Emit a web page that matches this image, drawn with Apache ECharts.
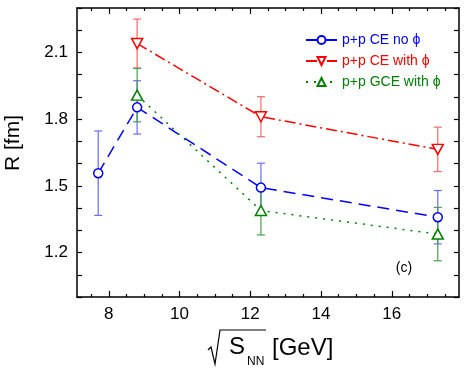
<!DOCTYPE html>
<html>
<head>
<meta charset="utf-8">
<script src="https://cdn.jsdelivr.net/npm/echarts@6/dist/echarts.min.js"></script>
<style>
  html, body { margin: 0; padding: 0; background: #fff; }
  #chart { width: 467px; height: 372px; }
</style>
</head>
<body>
<div id="chart"></div>
<script>
// collision energies (GeV)
var energyCE = [7.7, 8.8, 12.3, 17.3];
var energyPhi = [8.8, 12.3, 17.3];

// p+p CE no phi
var rCE = [1.557, 1.853, 1.492, 1.359];
var errCE = [0.19, 0.12, 0.11, 0.12];
// p+p CE with phi
var rCEphi = [2.14, 1.811, 1.664];
var errCEphi = [0.11, 0.09, 0.10];
// p+p GCE with phi
var rGCEphi = [1.908, 1.389, 1.283];
var errGCEphi = [0.12, 0.11, 0.12];

var xLabels = [8, 10, 12, 14, 16];
var yLabels = [1.2, 1.5, 1.8, 2.1];

var FONT = 'Arial, "Liberation Sans", sans-serif';
var BLUE = '#0000ff', RED = '#ff0000', GREEN = '#008000';

var xMinor = [];
for (var t = 7.5; t < 17.9; t += 0.5) {
    if (xLabels.indexOf(t) < 0) xMinor.push(t);
}

function pairs(xs, ys) {
    return xs.map(function (x, i) { return [x, ys[i]]; });
}
function triples(xs, ys, es) {
    return xs.map(function (x, i) { return [x, ys[i], es[i]]; });
}

function errorBars(color) {
    return function (params, api) {
        var x = api.value(0), y = api.value(1), e = api.value(2);
        var top = api.coord([x, y + e]);
        var bot = api.coord([x, y - e]);
        var w = 4;
        var st = { stroke: color, lineWidth: 1.2 };
        return {
            type: 'group',
            children: [
                { type: 'line', shape: { x1: top[0], y1: top[1], x2: bot[0], y2: bot[1] }, style: st },
                { type: 'line', shape: { x1: top[0] - w, y1: top[1], x2: top[0] + w, y2: top[1] }, style: st },
                { type: 'line', shape: { x1: bot[0] - w, y1: bot[1], x2: bot[0] + w, y2: bot[1] }, style: st }
            ]
        };
    };
}

function xAxisDef(pos, ticks, len, labels, line) {
    return {
        type: 'value', position: pos, min: 7.1, max: 17.9,
        axisLine: { show: line, onZero: false, lineStyle: { color: '#000', width: 1.5 } },
        axisTick: { show: true, inside: true, length: len, customValues: ticks,
                    lineStyle: { color: '#000', width: 1.2 } },
        axisLabel: labels ? { show: true, customValues: xLabels, color: '#000',
                              fontSize: 17, fontFamily: FONT, margin: 9 } : { show: false },
        splitLine: { show: false }
    };
}

function yAxisDef(pos, labels) {
    return {
        type: 'value', position: pos, min: 1.0, max: 2.3, interval: 0.1,
        axisLine: { show: true, onZero: false, lineStyle: { color: '#000', width: 1.5 } },
        axisTick: { show: true, inside: true, length: 5, lineStyle: { color: '#000', width: 1.2 } },
        axisLabel: {
            show: labels, color: '#000', fontSize: 17, fontFamily: FONT, margin: 9,
            formatter: function (v) {
                var k = Math.round(v * 10);
                for (var i = 0; i < yLabels.length; i++) {
                    if (Math.round(yLabels[i] * 10) === k) return yLabels[i].toFixed(1);
                }
                return '';
            }
        },
        splitLine: { show: false }
    };
}

var chart = echarts.init(document.getElementById('chart'));
var option = {
    animation: false,
    backgroundColor: '#fff',
    grid: { left: 77, right: 8, top: 8, bottom: 75 },
    xAxis: [
        xAxisDef('bottom', xLabels, 6, true, true),
        xAxisDef('bottom', xMinor, 3, false, false),
        xAxisDef('top', xLabels, 6, false, true),
        xAxisDef('top', xMinor, 3, false, false)
    ],
    yAxis: [
        yAxisDef('left', true),
        yAxisDef('right', false)
    ],
    legend: {
        orient: 'vertical', left: 300, top: 28,
        itemWidth: 31, itemHeight: 10, itemGap: 7,
        textStyle: { fontSize: 14, fontFamily: FONT },
        data: [
            { name: 'p+p CE no ϕ', textStyle: { color: BLUE } },
            { name: 'p+p CE with ϕ', textStyle: { color: RED } },
            { name: 'p+p GCE with ϕ', textStyle: { color: GREEN } }
        ]
    },
    graphic: [
        { type: 'text', x: 13, y: 143, rotation: Math.PI / 2,
          style: { text: 'R [fm]', font: '21px ' + FONT, fill: '#000', align: 'center', verticalAlign: 'middle' } },
        { type: 'text', x: 404, y: 268,
          style: { text: '(c)', font: '14px ' + FONT, fill: '#000', align: 'center', verticalAlign: 'middle' } },
        { type: 'polyline', shape: { points: [[208, 350], [211, 347], [215, 364], [220, 330], [266, 330]] },
          style: { stroke: '#000', lineWidth: 1.2, fill: null } },
        { type: 'text', x: 229, y: 347,
          style: { text: 'S', font: '24px ' + FONT, fill: '#000', align: 'left', verticalAlign: 'middle' } },
        { type: 'text', x: 247, y: 362,
          style: { text: 'NN', font: '12px ' + FONT, fill: '#000', align: 'left', verticalAlign: 'middle' } },
        { type: 'text', x: 272, y: 348,
          style: { text: '[GeV]', font: '24px ' + FONT, fill: '#000', align: 'left', verticalAlign: 'middle' } }
    ],
    series: [
        { type: 'custom', name: 'errCE', renderItem: errorBars('#6a6aff'), z: 1,
          data: triples(energyCE, rCE, errCE), encode: { x: 0, y: 1 } },
        { type: 'custom', name: 'errCEphi', renderItem: errorBars('#f26a6a'), z: 1,
          data: triples(energyPhi, rCEphi, errCEphi), encode: { x: 0, y: 1 } },
        { type: 'custom', name: 'errGCEphi', renderItem: errorBars('#4c9e4c'), z: 1,
          data: triples(energyPhi, rGCEphi, errGCEphi), encode: { x: 0, y: 1 } },
        {
            type: 'line', name: 'p+p CE no ϕ', data: pairs(energyCE, rCE), z: 3,
            symbol: 'circle', symbolSize: 9,
            lineStyle: { color: BLUE, width: 1.5, type: [12, 7] },
            itemStyle: { color: '#fff', borderColor: BLUE, borderWidth: 1.5 }
        },
        {
            type: 'line', name: 'p+p CE with ϕ', data: pairs(energyPhi, rCEphi), z: 3,
            symbol: 'triangle', symbolRotate: 180, symbolSize: [11, 10],
            lineStyle: { color: RED, width: 1.5, type: [11, 4, 2, 4] },
            itemStyle: { color: '#fff', borderColor: RED, borderWidth: 1.5 }
        },
        {
            type: 'line', name: 'p+p GCE with ϕ', data: pairs(energyPhi, rGCEphi), z: 3,
            symbol: 'triangle', symbolSize: [11, 10],
            lineStyle: { color: GREEN, width: 1.5, type: [2, 6] },
            itemStyle: { color: '#fff', borderColor: GREEN, borderWidth: 1.5 }
        }
    ]
};
chart.setOption(option);
</script>
</body>
</html>
